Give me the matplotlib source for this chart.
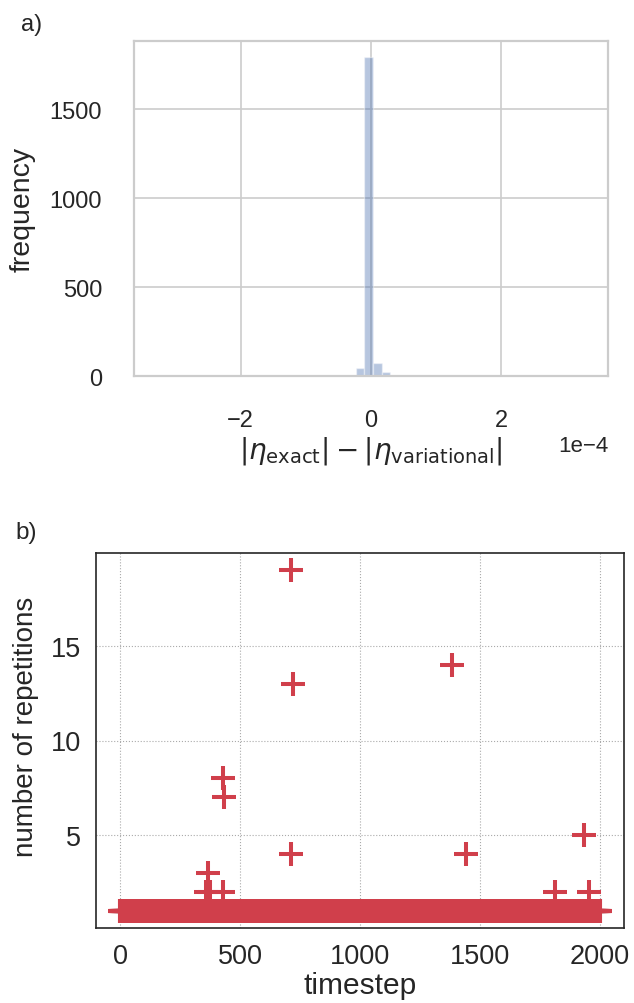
"""
Two-panel figure: a) histogram of |eta_exact| - |eta_variational|,
b) number of repetitions per timestep.
"""

import matplotlib
matplotlib.use("Agg")
import matplotlib.pyplot as plt
import numpy as np

plt.rcParams["font.family"] = ["Liberation Sans", "DejaVu Sans"]
plt.rcParams["mathtext.fontset"] = "dejavusans"
plt.rcParams["xtick.major.size"] = 0
plt.rcParams["ytick.major.size"] = 0

# ---- panel a data: 50-bin histogram of the eta difference ----
bin_lo = -3.268e-4
bin_width = 1.32e-5
n_bins = 50
hist_counts = [1, 0, 0, 0, 0, 0, 0, 0, 0, 0,
               0, 0, 0, 0, 0, 0, 0, 0, 0, 0,
               0, 3, 4, 47, 1794, 75, 21, 5, 3, 0,
               0, 0, 0, 0, 0, 0, 0, 0, 0, 0,
               0, 0, 0, 0, 0, 0, 0, 0, 0, 1]
hist_xlim = (-3.635e-4, 3.635e-4)

# ---- panel b data: repetitions per timestep ----
n_timesteps = 2001
base_reps = 1
outlier_steps = [358, 365, 377, 429, 431, 434, 711, 713, 719, 1383, 1440, 1811, 1933, 1955]
outlier_reps = [2, 3, 2, 8, 2, 7, 19, 4, 13, 14, 4, 2, 5, 2]

RED = "#d03f4b"
BLUE = "#4c72b0"
TXT = "#262626"

W, H = 634, 1004
fig = plt.figure(figsize=(W / 100, H / 100), dpi=100)


def px_axes(left, top, right, bottom):
    return fig.add_axes([left / W, 1 - bottom / H, (right - left) / W, (bottom - top) / H])


# ---------------- a) ----------------
plt.rcParams["xtick.major.pad"] = 24
plt.rcParams["ytick.major.pad"] = 23
ax1 = px_axes(134, 42, 608, 377)
edges = bin_lo + bin_width * np.arange(n_bins + 1)
centers = 0.5 * (edges[:-1] + edges[1:])
ax1.hist(centers, bins=edges, weights=hist_counts, color=BLUE, alpha=0.4,
         edgecolor="white", linewidth=1.0)
ax1.set_xlim(*hist_xlim)
ax1.set_ylim(0, 1.05 * max(hist_counts))
ax1.set_axisbelow(True)
ax1.grid(True, color="#cccccc", linewidth=1.2)
for s in ax1.spines.values():
    s.set_color("#cccccc")
    s.set_linewidth(1.6)
ax1.set_yticks([0, 500, 1000, 1500])
ax1.set_xticks([-2e-4, 0, 2e-4])
ax1.ticklabel_format(axis="x", style="sci", scilimits=(0, 0))
ax1.tick_params(labelsize=17, labelcolor=TXT)
ax1.xaxis.get_offset_text().set_fontsize(16)
ax1.xaxis.get_offset_text().set_color(TXT)
ax1.set_xlabel(r"$|\eta_{\mathrm{exact}}| - |\eta_{\mathrm{variational}}|$",
               fontsize=20, color=TXT, labelpad=2)
ax1.set_ylabel("frequency", fontsize=20.5, color=TXT)
ax1.yaxis.set_label_coords((36 - 134) / 474, 0.5)

# ---------------- b) ----------------
plt.rcParams["xtick.major.pad"] = 11
plt.rcParams["ytick.major.pad"] = 11
ax2 = px_axes(96, 554, 624, 929)
timesteps = np.arange(n_timesteps)
reps = np.full(n_timesteps, base_reps)
reps[outlier_steps] = outlier_reps
ax2.plot(timesteps, reps, linestyle="none", marker="+", color=RED,
         markersize=17, markeredgewidth=2.9)
ax2.set_xlim(-100, 2100)
ax2.set_ylim(0.1, 19.9)
ax2.set_xticks([0, 500, 1000, 1500, 2000])
ax2.set_yticks([5, 10, 15])
ax2.set_axisbelow(True)
ax2.grid(True, color="#aaaaaa", linestyle=":", linewidth=0.8)
for s in ax2.spines.values():
    s.set_color(TXT)
    s.set_linewidth(1.2)
ax2.tick_params(labelsize=19.5, labelcolor=TXT)
ax2.set_xlabel("timestep", fontsize=21.5, color=TXT, labelpad=1)
ax2.set_ylabel("number of repetitions", fontsize=20, color=TXT)
ax2.yaxis.set_label_coords((39 - 96) / 528, (929 - 727) / 375)

fig.text(21 / W, 1 - 31.5 / H, "a)", fontsize=17, va="baseline", ha="left", color=TXT)
fig.text(15 / W, 1 - 539 / H, "b)", fontsize=17.5, va="baseline", ha="left", color=TXT)

fig.savefig("out.png", dpi=100)
